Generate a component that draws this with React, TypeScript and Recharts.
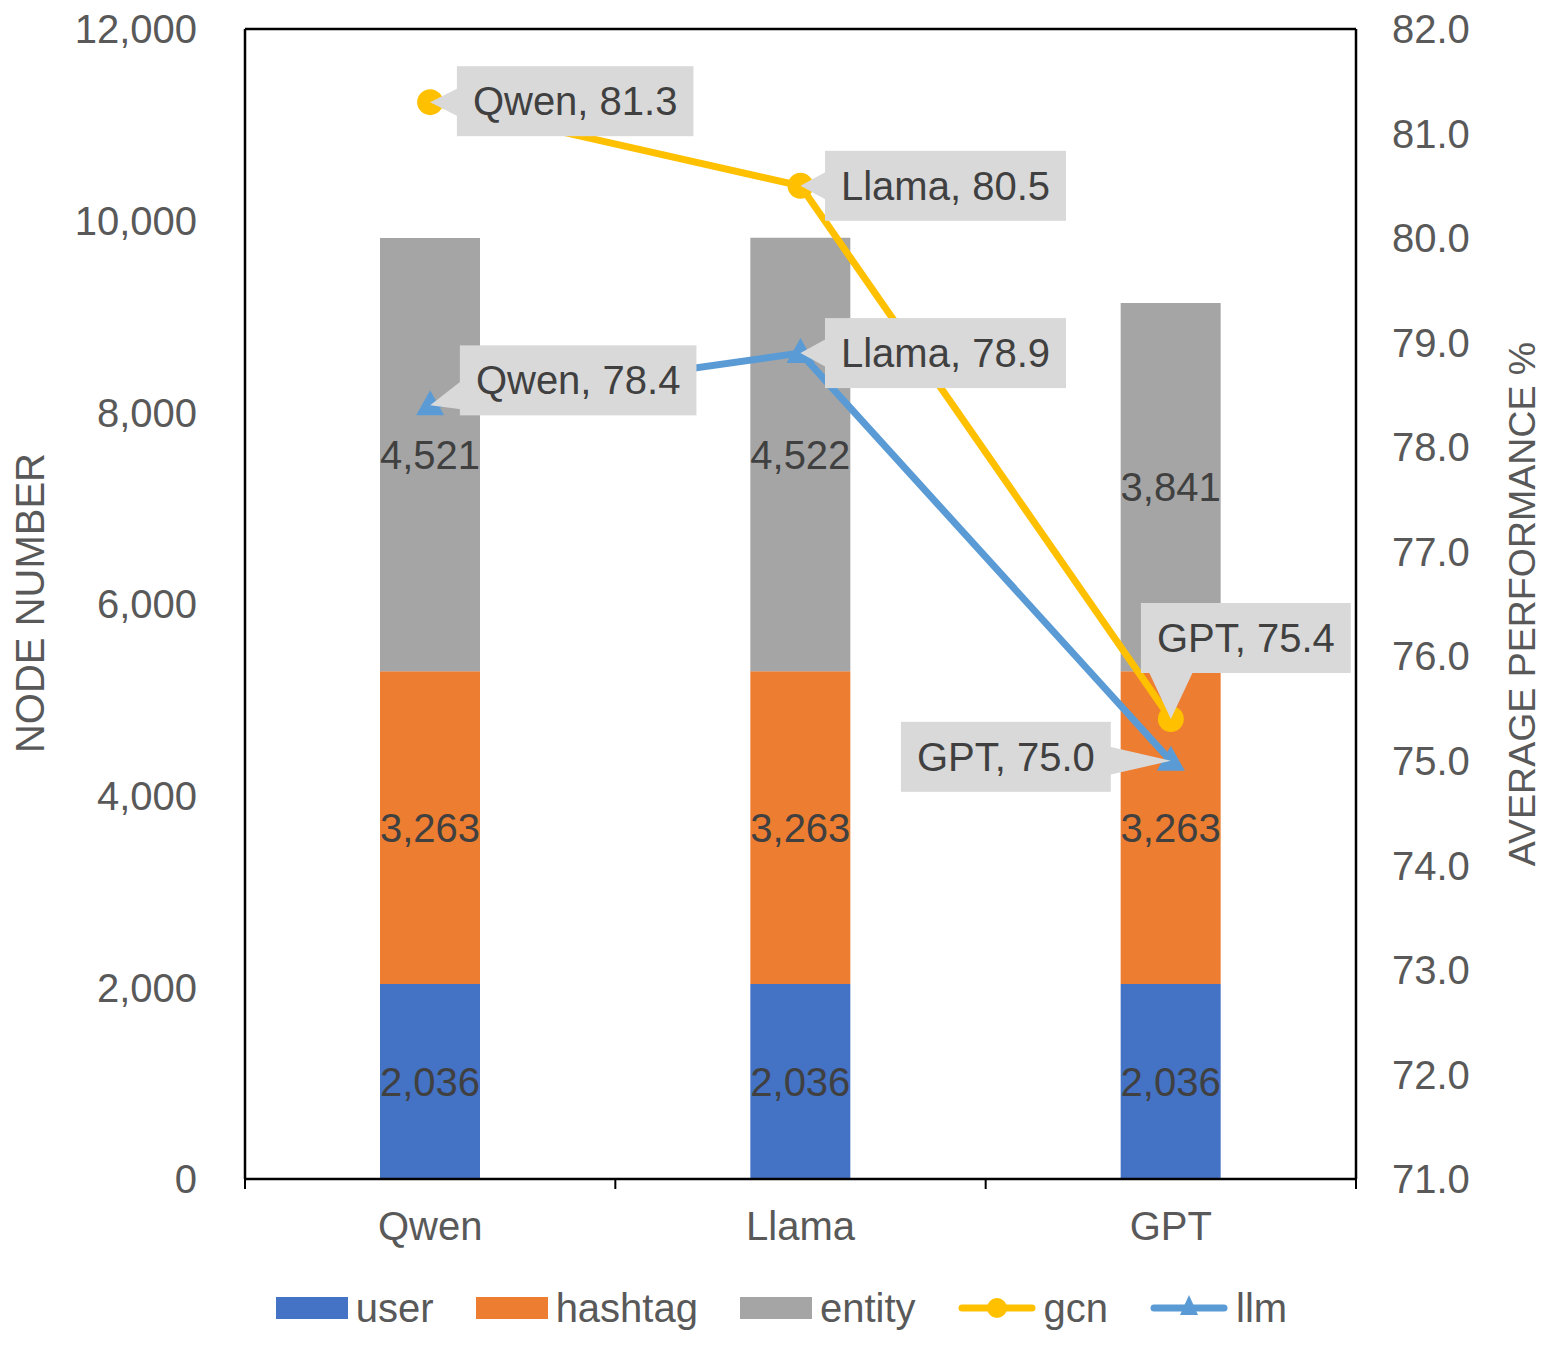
import React from 'react';
import {
  ComposedChart,
  Bar,
  Line,
  XAxis,
  YAxis,
  Legend,
  LabelList,
  ReferenceLine,
} from 'recharts';

const categories = ['Qwen', 'Llama', 'GPT'];
const userNodes = [2036, 2036, 2036];
const hashtagNodes = [3263, 3263, 3263];
const entityNodes = [4521, 4522, 3841];
const gcnPerf = [81.3, 80.5, 75.4];
const llmPerf = [78.4, 78.9, 75.0];
const nodeTicks = [0, 2000, 4000, 6000, 8000, 10000, 12000];
const perfTicks = [71, 72, 73, 74, 75, 76, 77, 78, 79, 80, 81, 82];

const data = categories.map((name, i) => ({
  name,
  user: userNodes[i],
  hashtag: hashtagNodes[i],
  entity: entityNodes[i],
  gcn: gcnPerf[i],
  llm: llmPerf[i],
}));

const W = 1549;
const H = 1346;
const LEFT_W = 245;
const RIGHT_W = 193;
const FONT = "'Liberation Sans', Arial, sans-serif";
const AXIS_GRAY = '#595959';
const LABEL_GRAY = '#404040';

const COLORS = {
  user: '#4472c4',
  hashtag: '#ed7d31',
  entity: '#a5a5a5',
  gcn: '#ffc000',
  llm: '#5b9bd5',
};

// callout box centre, relative to its point
const gcnCallouts = [[145, -1], [145, 0], [75, -81]];
const llmCallouts = [[148, -25], [145, 0], [-165, -4]];

let ctx: CanvasRenderingContext2D | null = null;
function textWidth(s: string, size: number) {
  if (!ctx) ctx = document.createElement('canvas').getContext('2d');
  if (!ctx) return s.length * size * 0.52;
  ctx.font = `${size}px ${FONT}`;
  return ctx.measureText(s).width;
}

const clamp = (v: number, a: number, b: number) => Math.max(a, Math.min(b, v));

function makeCallout(offsets: number[][]) {
  return (props: any) => {
    const { x, y, value, index } = props;
    if (x == null || y == null) return null;
    const label = `${categories[index]}, ${Number(value).toFixed(1)}`;
    const w = textWidth(label, 40) + 32;
    const h = 70;
    const cx = x + offsets[index][0];
    const cy = y + offsets[index][1];
    const left = cx - w / 2;
    const right = cx + w / 2;
    const top = cy - h / 2;
    const bottom = cy + h / 2;
    let base: number[][];
    if (x < left) {
      const c = clamp(y, top + 20, bottom - 20);
      base = [[left + 1, c - 14], [left + 1, c + 14]];
    } else if (x > right) {
      const c = clamp(y, top + 20, bottom - 20);
      base = [[right - 1, c - 14], [right - 1, c + 14]];
    } else if (y > bottom) {
      const c = clamp(x, left + 30, right - 30);
      base = [[c - 22, bottom - 1], [c + 22, bottom - 1]];
    } else {
      const c = clamp(x, left + 30, right - 30);
      base = [[c - 22, top + 1], [c + 22, top + 1]];
    }
    const pts = [[x, y], ...base].map((p) => p.join(',')).join(' ');
    return (
      <g key={`callout-${index}`}>
        <polygon points={pts} fill="#d9d9d9" />
        <rect x={left} y={top} width={w} height={h} fill="#d9d9d9" />
        <text
          x={cx}
          y={cy + 14}
          textAnchor="middle"
          fontFamily={FONT}
          fontSize={40}
          fill={LABEL_GRAY}
        >
          {label}
        </text>
      </g>
    );
  };
}

const half = (W - LEFT_W - RIGHT_W) / categories.length / 2;

function CategoryTick(props: any) {
  const { x, y, payload, index } = props;
  return (
    <g>
      <line x1={x - half} x2={x - half} y1={y} y2={y + 10} stroke="#000" strokeWidth={2} />
      {index === categories.length - 1 && (
        <line x1={x + half} x2={x + half} y1={y} y2={y + 10} stroke="#000" strokeWidth={2} />
      )}
      <text x={x} y={y + 61} textAnchor="middle" fontFamily={FONT} fontSize={40} fill={AXIS_GRAY}>
        {payload.value}
      </text>
    </g>
  );
}

function AxisTitle({ tx, ty, text, size }: any) {
  return (
    <text
      x={tx}
      y={ty}
      transform={`rotate(-90, ${tx}, ${ty})`}
      textAnchor="middle"
      dominantBaseline="central"
      fontFamily={FONT}
      fontSize={size}
      fill={AXIS_GRAY}
    >
      {text}
    </text>
  );
}

function TriangleDot(props: any) {
  const { cx, cy, index } = props;
  if (cx == null || cy == null) return null;
  return (
    <polygon
      key={`tri-${index}`}
      points={`${cx},${cy - 15} ${cx - 14},${cy + 10} ${cx + 14},${cy + 10}`}
      fill={COLORS.llm}
    />
  );
}

function LegendContent() {
  const item = (marker: React.ReactNode, label: string) => (
    <div key={label} style={{ display: 'flex', alignItems: 'center' }}>
      {marker}
      <span style={{ marginLeft: 8 }}>{label}</span>
    </div>
  );
  const box = (color: string) => (
    <span style={{ display: 'inline-block', width: 72, height: 22, background: color }} />
  );
  const lineMarker = (color: string, shape: 'circle' | 'triangle') => (
    <svg width={78} height={30}>
      <line x1={4} x2={74} y1={15} y2={15} stroke={color} strokeWidth={7} strokeLinecap="round" />
      {shape === 'circle' ? (
        <circle cx={39} cy={15} r={10} fill={color} />
      ) : (
        <polygon points="39,2 30,22 48,22" fill={color} />
      )}
    </svg>
  );
  return (
    <div
      style={{
        display: 'flex',
        justifyContent: 'center',
        alignItems: 'center',
        gap: 42,
        height: 60,
        paddingLeft: 14,
        fontFamily: FONT,
        fontSize: 40,
        color: AXIS_GRAY,
      }}
    >
      {item(box(COLORS.user), 'user')}
      {item(box(COLORS.hashtag), 'hashtag')}
      {item(box(COLORS.entity), 'entity')}
      {item(lineMarker(COLORS.gcn, 'circle'), 'gcn')}
      {item(lineMarker(COLORS.llm, 'triangle'), 'llm')}
    </div>
  );
}

export default function App() {
  return (
    <div style={{ position: 'absolute', left: 0, top: 0, width: W, height: H, background: '#fff' }}>
      <ComposedChart
        width={W}
        height={H}
        data={data}
        margin={{ top: 29, right: 0, left: 0, bottom: 8 }}
        barCategoryGap={0}
      >
        <XAxis
          dataKey="name"
          height={99}
          axisLine={{ stroke: '#000', strokeWidth: 2.5 }}
          tickLine={false}
          tickSize={0}
          tickMargin={0}
          tick={<CategoryTick />}
          interval={0}
        />
        <YAxis
          yAxisId="left"
          width={LEFT_W}
          domain={[0, 12000]}
          ticks={nodeTicks}
          allowDataOverflow
          axisLine={{ stroke: '#000', strokeWidth: 2.5 }}
          tickLine={false}
          tickSize={0}
          tickMargin={48}
          tick={{ fontFamily: FONT, fontSize: 40, fill: AXIS_GRAY }}
          tickFormatter={(v: number) => v.toLocaleString('en-US')}
          label={<AxisTitle tx={30} ty={603} text="NODE NUMBER" size={40} />}
        />
        <YAxis
          yAxisId="right"
          orientation="right"
          width={RIGHT_W}
          domain={[71, 82]}
          ticks={perfTicks}
          allowDataOverflow
          axisLine={{ stroke: '#000', strokeWidth: 2.5 }}
          tickLine={false}
          tickSize={0}
          tickMargin={36}
          tick={{ fontFamily: FONT, fontSize: 40, fill: AXIS_GRAY }}
          tickFormatter={(v: number) => v.toFixed(1)}
          label={<AxisTitle tx={1522} ty={604} text="AVERAGE PERFORMANCE %" size={37.5} />}
        />
        <ReferenceLine yAxisId="left" y={12000} stroke="#000" strokeWidth={2.5} />
        <Legend verticalAlign="bottom" content={<LegendContent />} />
        <Bar dataKey="user" stackId="nodes" yAxisId="left" fill={COLORS.user} barSize={100} isAnimationActive={false}>
          <LabelList
            dataKey="user"
            position="center"
            fill={LABEL_GRAY}
            fontSize={40}
            fontFamily={FONT}
            formatter={(v: any) => Number(v).toLocaleString('en-US')}
          />
        </Bar>
        <Bar dataKey="hashtag" stackId="nodes" yAxisId="left" fill={COLORS.hashtag} barSize={100} isAnimationActive={false}>
          <LabelList
            dataKey="hashtag"
            position="center"
            fill={LABEL_GRAY}
            fontSize={40}
            fontFamily={FONT}
            formatter={(v: any) => Number(v).toLocaleString('en-US')}
          />
        </Bar>
        <Bar dataKey="entity" stackId="nodes" yAxisId="left" fill={COLORS.entity} barSize={100} isAnimationActive={false}>
          <LabelList
            dataKey="entity"
            position="center"
            fill={LABEL_GRAY}
            fontSize={40}
            fontFamily={FONT}
            formatter={(v: any) => Number(v).toLocaleString('en-US')}
          />
        </Bar>
        <Line
          dataKey="gcn"
          yAxisId="right"
          stroke={COLORS.gcn}
          strokeWidth={7}
          dot={{ r: 13, fill: COLORS.gcn, stroke: 'none' }}
          activeDot={false}
          isAnimationActive={false}
        >
          <LabelList dataKey="gcn" content={makeCallout(gcnCallouts)} />
        </Line>
        <Line
          dataKey="llm"
          yAxisId="right"
          stroke={COLORS.llm}
          strokeWidth={7}
          dot={<TriangleDot />}
          activeDot={false}
          isAnimationActive={false}
        >
          <LabelList dataKey="llm" content={makeCallout(llmCallouts)} />
        </Line>
      </ComposedChart>
    </div>
  );
}
